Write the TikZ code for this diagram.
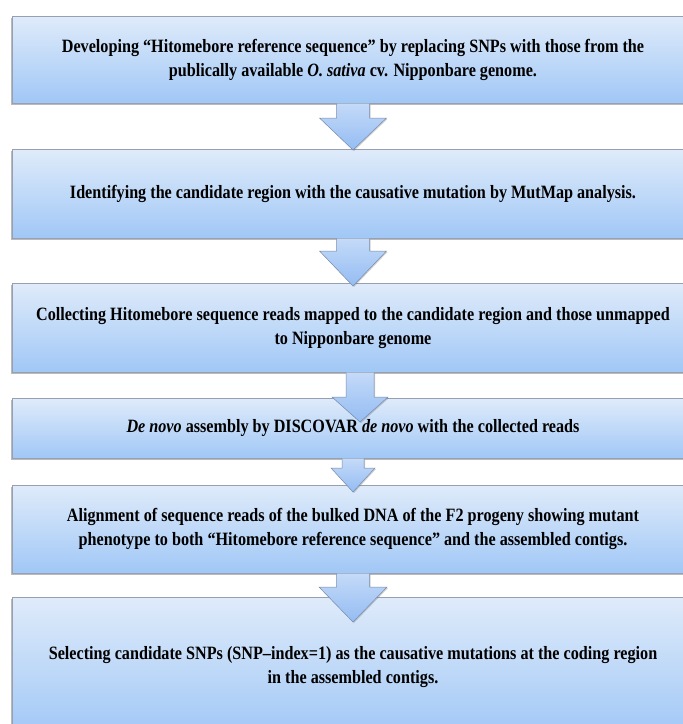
\documentclass[tikz,border=0pt]{standalone}
\usepackage{fontspec}
\setmainfont{Liberation Serif}[FakeStretch=0.86]
\usetikzlibrary{calc,shadows}
\definecolor{boxtop}{RGB}{223,235,250}
\definecolor{boxbot}{RGB}{160,199,246}
\definecolor{boxline}{RGB}{150,160,178}
\definecolor{arrtop}{RGB}{196,218,248}
\definecolor{arrbot}{RGB}{148,188,243}
\definecolor{arrline}{RGB}{120,140,170}
\tikzset{
  stepbox/.style={draw=boxline, line width=0.6pt, top color=boxtop, bottom color=boxbot,
    minimum width=682pt, anchor=north, inner sep=0pt, align=center,
    font=\fontsize{18.8}{24}\selectfont\bfseries,
    drop shadow={shadow xshift=-1.2pt, shadow yshift=-1.8pt, opacity=0.45, fill=black!60}},
  barrow/.style={draw=arrline, line width=0.5pt, top color=arrtop, bottom color=arrbot,
    line join=miter,
    drop shadow={shadow xshift=1pt, shadow yshift=-1pt, opacity=0.3, fill=black!60}}
}
\begin{document}
\begin{tikzpicture}[x=1pt,y=-1pt]
\useasboundingbox (0,0) rectangle (683,724);
\fill[white] (0,0) rectangle (683,724);
\begin{scope}
\clip (0,0) rectangle (683,724);
\node[stepbox, minimum height=87pt] (b1) at (353,16)
  {Developing “Hitomebore reference sequence” by replacing SNPs with those from the\\
   publically available \textit{O. sativa} cv. Nipponbare genome.};
\node[stepbox, minimum height=89pt] (b2) at (353,149)
  {Identifying the candidate region with the causative mutation by MutMap analysis.};
\node[stepbox, minimum height=89pt] (b3) at (353,283)
  {Collecting Hitomebore sequence reads mapped to the candidate region and those unmapped\\
   to Nipponbare genome};
\node[stepbox, minimum height=60pt] (b4) at (353,398)
  {\textit{De novo} assembly by DISCOVAR \textit{de novo} with the collected reads};
\node[stepbox, minimum height=88pt] (b5) at (353,485)
  {Alignment of sequence reads of the bulked DNA of the F2 progeny showing mutant\\
   phenotype to both “Hitomebore reference sequence” and the assembled contigs.};
\node[stepbox, minimum height=140pt] (b6) at (353,597)
  {Selecting candidate SNPs (SNP–index=1) as the causative mutations at the coding region\\
   in the assembled contigs.};
% arrows
\coordinate (t1) at ($(b2.north)+(0,1)$);
\draw[barrow] ($(b1.south)+(-16.5,0)$) -- ($(t1)+(-16.5,-32)$) -- ($(t1)+(-33.5,-32)$) -- (t1)
  -- ($(t1)+(33.5,-32)$) -- ($(t1)+(16.5,-32)$) -- ($(b1.south)+(16.5,0)$);
\coordinate (t2) at ($(b3.north)+(0,3)$);
\draw[barrow] ($(b2.south)+(-16.5,0)$) -- ($(t2)+(-16.5,-35)$) -- ($(t2)+(-33.5,-35)$) -- (t2)
  -- ($(t2)+(33.5,-35)$) -- ($(t2)+(16.5,-35)$) -- ($(b2.south)+(16.5,0)$);
\coordinate (t3) at ($(b4.north)+(7,24)$);
\draw[barrow] ($(b3.south)+(-7,0)$) -- ($(t3)+(-14,-25)$) -- ($(t3)+(-28,-25)$) -- (t3)
  -- ($(t3)+(28,-25)$) -- ($(t3)+(14,-25)$) -- ($(b3.south)+(21,0)$);
\coordinate (t4) at ($(b5.north)+(0,7)$);
\draw[barrow] ($(b4.south)+(-11,0)$) -- ($(t4)+(-11,-24)$) -- ($(t4)+(-22,-24)$) -- (t4)
  -- ($(t4)+(22,-24)$) -- ($(t4)+(11,-24)$) -- ($(b4.south)+(11,0)$);
\coordinate (t5) at ($(b6.north)+(0,25)$);
\draw[barrow] ($(b5.south)+(-16.5,0)$) -- ($(t5)+(-16.5,-35)$) -- ($(t5)+(-34,-35)$) -- (t5)
  -- ($(t5)+(34,-35)$) -- ($(t5)+(16.5,-35)$) -- ($(b5.south)+(16.5,0)$);
\end{scope}
\end{tikzpicture}
\end{document}
